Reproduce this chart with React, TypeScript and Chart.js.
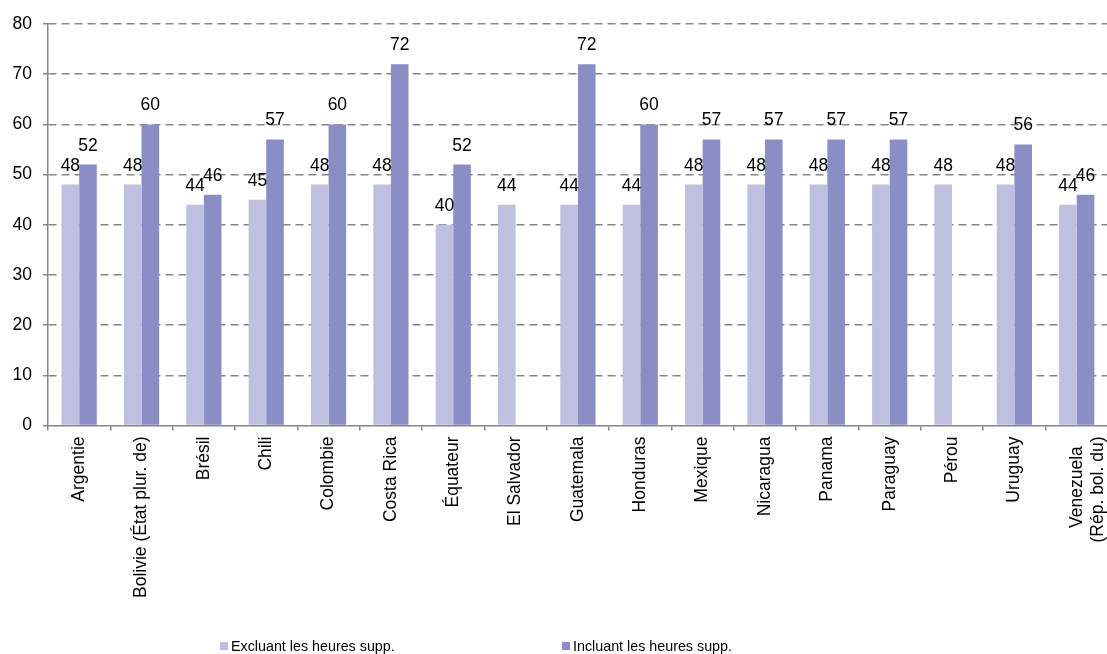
import React, { useEffect, useRef } from "react";
import { Chart, registerables } from "chart.js";

Chart.register(...registerables);

const categories: (string | string[])[] = [
  "Argentie",
  "Bolivie (État plur. de)",
  "Brésil",
  "Chili",
  "Colombie",
  "Costa Rica",
  "Équateur",
  "El Salvador",
  "Guatemala",
  "Honduras",
  "Mexique",
  "Nicaragua",
  "Panama",
  "Paraguay",
  "Pérou",
  "Uruguay",
  ["Venezuela  ", "(Rép. bol. du)"],
];

const seriesNames = ["Excluant les heures supp.", "Incluant les heures supp."];

const excluant: (number | null)[] = [48, 48, 44, 45, 48, 48, 40, 44, 44, 44, 48, 48, 48, 48, 48, 48, 44];
const incluant: (number | null)[] = [52, 60, 46, 57, 60, 72, 52, null, 72, 60, 57, 57, 57, 57, null, 56, 46];

const yMin = 0;
const yMax = 80;
const yStep = 10;

const FONT = "'Liberation Sans', Arial, Helvetica, sans-serif";
const LIGHT = "#BFBFE0";
const DARK = "#8B8DC5";
const AXIS = "#868686";

const dataLabelPlugin = {
  id: "dataLabels",
  afterDatasetsDraw(chart: any) {
    const ctx = chart.ctx;
    ctx.save();
    ctx.font = `17.5px ${FONT}`;
    ctx.fillStyle = "#000";
    ctx.textAlign = "center";
    ctx.textBaseline = "alphabetic";
    chart.data.datasets.forEach((ds: any, di: number) => {
      const meta = chart.getDatasetMeta(di);
      meta.data.forEach((el: any, i: number) => {
        const v = ds.data[i];
        if (v === null || v === undefined) return;
        ctx.fillText(String(v), el.x, el.y - 14);
      });
    });
    ctx.restore();
  },
};

const legendPlugin = {
  id: "customLegend",
  afterDraw(chart: any) {
    const ctx = chart.ctx;
    const starts = [220, 562];
    ctx.save();
    ctx.font = `14.3px ${FONT}`;
    ctx.textBaseline = "alphabetic";
    ctx.textAlign = "left";
    chart.data.datasets.forEach((ds: any, di: number) => {
      const x = starts[di];
      ctx.fillStyle = ds.backgroundColor;
      ctx.fillRect(x, 642, 8, 8);
      ctx.fillStyle = "#000";
      ctx.fillText(ds.label, x + 11, 651);
    });
    ctx.restore();
  },
};

export default function App() {
  const ref = useRef<HTMLCanvasElement | null>(null);

  useEffect(() => {
    if (!ref.current) return;
    const chart = new Chart(ref.current, {
      type: "bar",
      data: {
        labels: categories,
        datasets: [
          {
            label: seriesNames[0],
            data: excluant,
            backgroundColor: LIGHT,
            borderWidth: 0,
            categoryPercentage: 0.565,
            barPercentage: 1,
          },
          {
            label: seriesNames[1],
            data: incluant,
            backgroundColor: DARK,
            borderWidth: 0,
            categoryPercentage: 0.565,
            barPercentage: 1,
          },
        ],
      },
      options: {
        responsive: false,
        animation: false,
        layout: { padding: { left: 0, top: 24, right: 9.4, bottom: 0 } },
        plugins: {
          legend: { display: false },
          tooltip: { enabled: false },
        },
        scales: {
          x: {
            offset: true,
            grid: {
              display: true,
              offset: true,
              drawOnChartArea: false,
              drawTicks: true,
              tickLength: 5,
              color: AXIS,
              lineWidth: 1.5,
            },
            border: { display: true, color: AXIS, width: 1.5 },
            ticks: {
              autoSkip: false,
              minRotation: 90,
              maxRotation: 90,
              padding: 6,
              color: "#000",
              font: { family: FONT, size: 17.5 },
            },
            afterFit: (s: any) => {
              s.height = 228.5;
            },
          },
          y: {
            min: yMin,
            max: yMax,
            ticks: {
              stepSize: yStep,
              padding: 11,
              color: "#000",
              font: { family: FONT, size: 17.5 },
            },
            grid: {
              display: true,
              drawTicks: true,
              tickLength: 5,
              color: (c: any) => (c.tick && c.tick.value === 0 ? "rgba(0,0,0,0)" : AXIS),
              tickColor: AXIS,
              lineWidth: 1.5,
              tickWidth: 1.5,
              tickBorderDash: [],
            },
            border: { display: true, color: AXIS, width: 1.5, dash: [8, 5] },
            afterFit: (s: any) => {
              s.width = 48;
            },
          },
        },
      },
      plugins: [dataLabelPlugin, legendPlugin],
    } as any);
    return () => chart.destroy();
  }, []);

  return (
    <div
      style={{
        position: "fixed",
        left: 0,
        top: 0,
        width: 1107,
        height: 654,
        overflow: "hidden",
        background: "#fff",
      }}
    >
      <canvas ref={ref} width={1125} height={654} style={{ display: "block" }} />
    </div>
  );
}
